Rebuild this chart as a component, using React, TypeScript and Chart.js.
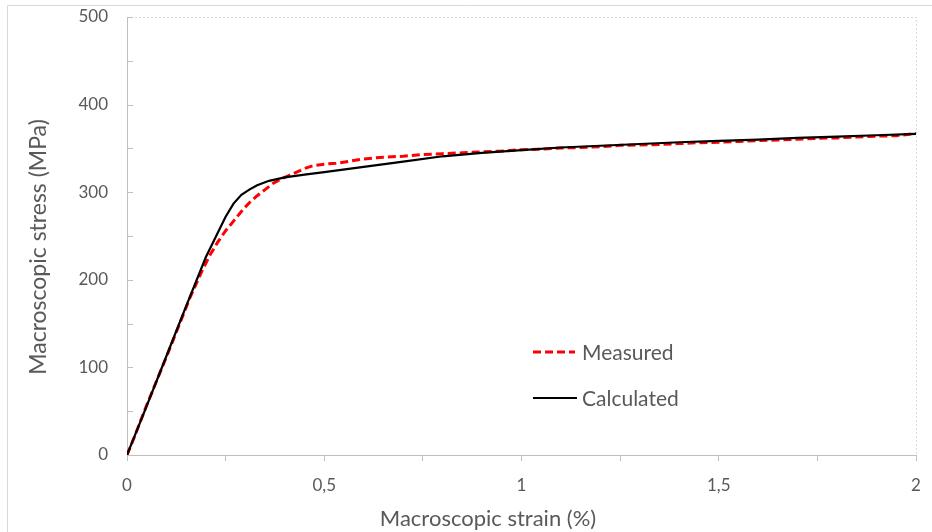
import React, { useEffect, useRef } from "react";
import { Chart, registerables } from "chart.js";

Chart.register(...registerables);

const strainMeasured = [0, 0.02, 0.05, 0.08, 0.1, 0.13, 0.16, 0.19, 0.21, 0.23, 0.25, 0.27, 0.29, 0.31, 0.33, 0.35, 0.37, 0.39, 0.41, 0.43, 0.45, 0.47, 0.5, 0.53, 0.56, 0.6, 0.65, 0.7, 0.75, 0.8, 0.85, 0.9, 0.95, 1.0, 1.05, 1.1, 1.15, 1.2, 1.25, 1.3, 1.35, 1.4, 1.45, 1.5, 1.55, 1.6, 1.65, 1.7, 1.75, 1.8, 1.85, 1.9, 1.95, 2.0];
const stressMeasured = [0, 22, 57, 90, 112, 146, 180, 210, 228, 243, 256, 267, 278, 288, 296, 303, 310, 315, 319, 323, 327, 330, 332, 333, 335, 338, 340, 341, 343, 344, 345, 346, 347, 348.5, 349, 350.5, 351, 352, 353.5, 354, 354.5, 355.5, 356.5, 357, 358, 359, 359.5, 360.5, 361.5, 362, 363, 364, 364.5, 367];

const strainCalculated = [0, 0.05, 0.1, 0.15, 0.2, 0.25, 0.27, 0.29, 0.31, 0.33, 0.36, 0.4, 0.45, 0.5, 0.6, 0.7, 0.8, 0.9, 1.0, 1.1, 1.2, 1.3, 1.4, 1.5, 1.6, 1.7, 1.8, 1.9, 2.0];
const stressCalculated = [0, 56, 113, 170, 226, 272, 287, 297, 303, 308, 313, 317, 320, 323, 329, 335, 341, 345, 348, 351, 353, 355, 357, 358.5, 360, 362, 363.5, 365, 366.5];

const xMajorTicks = [0, 0.5, 1, 1.5, 2];
const xTickLabels = ["0", "0,5", "1", "1,5", "2"];
const yMajorTicks = [0, 100, 200, 300, 400, 500];
const seriesNames = ["Measured", "Calculated"];
const xTitle = "Macroscopic strain (%)";
const yTitle = "Macroscopic stress (MPa)";

const FONT = "Lato, 'Open Sans', sans-serif";
const TEXT = "#595959";

const decorPlugin = {
  id: "decor",
  beforeDraw(chart: any) {
    const { ctx, chartArea } = chart;
    ctx.save();
    ctx.fillStyle = "#ffffff";
    ctx.fillRect(0, 0, chart.width, chart.height);
    ctx.strokeStyle = "#d9d9d9";
    ctx.lineWidth = 1;
    ctx.beginPath();
    ctx.moveTo(7.5, chart.height);
    ctx.lineTo(7.5, 5.5);
    ctx.lineTo(chart.width, 5.5);
    ctx.stroke();
    ctx.strokeStyle = "#dcd4dc";
    ctx.setLineDash([2, 2]);
    ctx.beginPath();
    ctx.moveTo(chartArea.left, chartArea.top + 0.5);
    ctx.lineTo(chartArea.right + 0.5, chartArea.top + 0.5);
    ctx.lineTo(chartArea.right + 0.5, chartArea.bottom);
    ctx.stroke();
    ctx.restore();
  },
  afterDraw(chart: any) {
    const { ctx, chartArea, scales } = chart;
    const y = scales.y;
    ctx.save();
    ctx.strokeStyle = "#bfbfbf";
    ctx.lineWidth = 1;
    for (let v = 0; v <= 500; v += 50) {
      const py = Math.round(y.getPixelForValue(v)) + 0.5;
      ctx.beginPath();
      ctx.moveTo(chartArea.left, py);
      ctx.lineTo(chartArea.left + 6, py);
      ctx.stroke();
    }
    ctx.fillStyle = TEXT;
    ctx.textAlign = "center";
    ctx.textBaseline = "alphabetic";
    ctx.font = `22px ${FONT}`;
    ctx.fillText(xTitle, 488, 526);
    ctx.save();
    ctx.font = `23px ${FONT}`;
    ctx.translate(46, 247);
    ctx.rotate(-Math.PI / 2);
    ctx.fillText(yTitle, 0, 0);
    ctx.restore();
    ctx.textAlign = "left";
    ctx.font = `21px ${FONT}`;
    ctx.strokeStyle = "#ff0000";
    ctx.lineWidth = 3;
    ctx.setLineDash([8, 4]);
    ctx.beginPath();
    ctx.moveTo(533, 352);
    ctx.lineTo(575, 352);
    ctx.stroke();
    ctx.setLineDash([]);
    ctx.strokeStyle = "#000000";
    ctx.lineWidth = 2;
    ctx.beginPath();
    ctx.moveTo(533, 398);
    ctx.lineTo(577, 398);
    ctx.stroke();
    ctx.fillText(seriesNames[0], 582, 360);
    ctx.fillText(seriesNames[1], 582, 406);
    ctx.restore();
  },
};

export default function App() {
  const ref = useRef<HTMLCanvasElement>(null);
  useEffect(() => {
    if (!ref.current) return;
    const chart = new Chart(ref.current, {
      type: "scatter",
      data: {
        datasets: [
          {
            label: seriesNames[1],
            data: strainCalculated.map((x, i) => ({ x, y: stressCalculated[i] })),
            showLine: true,
            borderColor: "#000000",
            borderWidth: 2.2,
            pointRadius: 0,
            tension: 0,
          },
          {
            label: seriesNames[0],
            data: strainMeasured.map((x, i) => ({ x, y: stressMeasured[i] })),
            showLine: true,
            borderColor: "#ff0000",
            borderWidth: 3,
            borderDash: [8, 4],
            pointRadius: 0,
            tension: 0,
          },
        ],
      },
      options: {
        animation: false,
        responsive: false,
        layout: { padding: { top: 17, right: 16, left: 0, bottom: 0 } },
        plugins: { legend: { display: false }, tooltip: { enabled: false } },
        scales: {
          x: {
            type: "linear",
            min: 0,
            max: 2,
            afterFit: (s: any) => {
              s.height = 77;
              s.paddingLeft = 0;
              s.paddingRight = 0;
            },
            border: { display: true, color: "#bfbfbf", width: 1 },
            grid: { display: true, drawOnChartArea: false, drawTicks: true, tickLength: 6, color: "#bfbfbf" },
            ticks: {
              stepSize: 0.25,
              autoSkip: false,
              maxRotation: 0,
              padding: 14,
              color: TEXT,
              font: { family: FONT, size: 17 },
              callback: (v: any) => {
                const idx = xMajorTicks.findIndex((t) => Math.abs(t - Number(v)) < 1e-6);
                return idx >= 0 ? xTickLabels[idx] : "";
              },
            },
          },
          y: {
            type: "linear",
            min: 0,
            max: 500,
            afterFit: (s: any) => {
              s.width = 127;
              s.paddingTop = 0;
              s.paddingBottom = 0;
            },
            border: { display: true, color: "#bfbfbf", width: 1 },
            grid: { display: false, drawTicks: false },
            ticks: {
              stepSize: 50,
              autoSkip: false,
              padding: 19,
              color: TEXT,
              font: { family: FONT, size: 17 },
              callback: (v: any) => (yMajorTicks.includes(Number(v)) ? String(v) : ""),
            },
          },
        },
      },
      plugins: [decorPlugin],
    });
    return () => chart.destroy();
  }, []);
  return (
    <div style={{ position: "fixed", left: 0, top: 0, width: 932, height: 532, background: "#fff" }}>
      <canvas ref={ref} width={932} height={532} style={{ display: "block" }} />
    </div>
  );
}
